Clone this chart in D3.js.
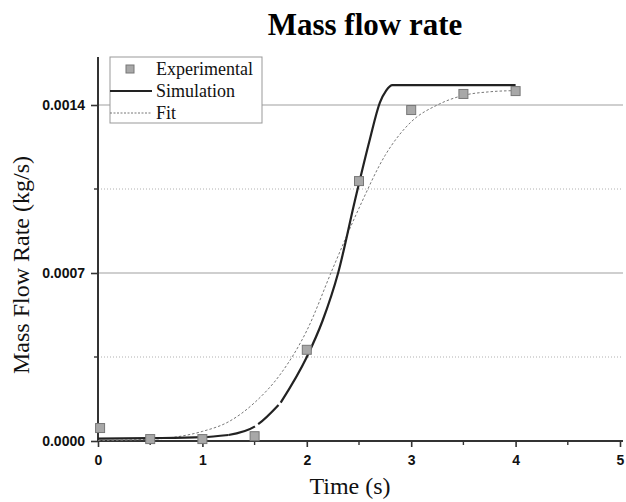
<!DOCTYPE html>
<html>
<head>
	<meta charset="UTF-8">
	<script src="https://d3js.org/d3.v7.min.js"></script>
	<title>Mass flow rate</title>
	<style>
		body { margin: 0; background: #fff; }
	</style>
</head>
<body>
	<svg></svg>
	<script type="text/javascript">
		const width = 626;
		const height = 502;
		const margin = ({top: 57, right: 6, bottom: 61, left: 98});

		// experimental points (time s, kg/s)
		const expTime = [0.02, 0.5, 1.0, 1.5, 2.0, 2.5, 3.0, 3.5, 4.0];
		const expValue = [0.000054, 0.000008, 0.000008, 0.00002, 0.00038, 0.001083, 0.001379, 0.001446, 0.001458];

		// simulation curve
		const simTime = [0, 0.5, 1.0, 1.25, 1.5, 1.75, 2.0, 2.15, 2.3, 2.46, 2.6, 2.7, 2.76, 2.82, 3.5, 4.0];
		const simValue = [0.00001, 0.000012, 0.000016, 0.000025, 0.00006, 0.00016, 0.00035, 0.0005, 0.0007, 0.001, 0.00125, 0.00141, 0.00146, 0.001483, 0.001483, 0.001483];

		// fit curve
		const fitTime = [0, 0.5, 0.75, 1.0, 1.25, 1.5, 1.75, 2.0, 2.25, 2.5, 2.75, 3.0, 3.25, 3.5, 3.75, 4.0];
		const fitValue = [0.000002, 0.000007, 0.000017, 0.00004, 0.00008, 0.00016, 0.00028, 0.00046, 0.00072, 0.00097, 0.00119, 0.00133, 0.0014, 0.00144, 0.001455, 0.00146];

		const xMajor = [0, 1, 2, 3, 4, 5];
		const xMinor = [0.5, 1.5, 2.5, 3.5, 4.5];
		const yMajor = [0, 0.0007, 0.0014];
		const yMinor = [0.00035, 0.00105];
		const legendNames = ["Experimental", "Simulation", "Fit"];

		const expData = expTime.map((t, i) => ({t, v: expValue[i]}));
		const simData = simTime.map((t, i) => ({t, v: simValue[i]}));
		const fitData = fitTime.map((t, i) => ({t, v: fitValue[i]}));

		const x = d3.scaleLinear()
			.domain([0, 5])
			.range([margin.left, 620]);

		const y = d3.scaleLinear()
			.domain([0, 0.0016])
			.range([height - margin.bottom, margin.top]);

		const svg = d3.select("svg")
			.attr("width", width)
			.attr("height", height)
			.attr("viewBox", [0, 0, width, height]);

		const serif = "'Liberation Serif', 'Times New Roman', serif";
		const sans = "'Liberation Sans', Arial, sans-serif";

		// grid
		svg.append("g")
			.selectAll("line")
			.data(yMajor.slice(1))
			.join("line")
				.attr("x1", margin.left)
				.attr("x2", 623)
				.attr("y1", d => y(d))
				.attr("y2", d => y(d))
				.attr("stroke", "#a0a0a0")
				.attr("stroke-width", 1.2);

		svg.append("g")
			.selectAll("line")
			.data(yMinor)
			.join("line")
				.attr("x1", margin.left)
				.attr("x2", 623)
				.attr("y1", d => y(d))
				.attr("y2", d => y(d))
				.attr("stroke", "#b0b0b0")
				.attr("stroke-dasharray", "1,2");

		// axes
		const xAxis = g => g
			.attr("transform", `translate(0,${y(0)})`)
			.call(d3.axisBottom(x).tickValues(xMajor).tickFormat(d3.format("d")).tickSize(6).tickPadding(8))
			.call(g => g.select(".domain").attr("stroke", "#333").attr("stroke-width", 2).attr("d", `M${margin.left},0H623`))
			.call(g => g.selectAll(".tick line").attr("stroke", "#333").attr("stroke-width", 1.6))
			.call(g => g.selectAll(".tick text")
				.attr("font-family", sans)
				.attr("font-weight", "bold")
				.attr("font-size", 14)
				.attr("fill", "#111"));

		const yAxis = g => g
			.attr("transform", `translate(${margin.left},0)`)
			.call(d3.axisLeft(y).tickValues(yMajor).tickFormat(d3.format(".4f")).tickSize(7).tickPadding(6))
			.call(g => g.select(".domain").attr("stroke", "#333").attr("stroke-width", 2).attr("d", `M0,${y(0)}V${margin.top}`))
			.call(g => g.selectAll(".tick line").attr("stroke", "#333").attr("stroke-width", 1.6))
			.call(g => g.selectAll(".tick text")
				.attr("font-family", sans)
				.attr("font-weight", "bold")
				.attr("font-size", 14)
				.attr("fill", "#111"));

		svg.append("g").call(xAxis);
		svg.append("g").call(yAxis);

		// minor ticks
		svg.append("g")
			.selectAll("line")
			.data(xMinor)
			.join("line")
				.attr("x1", d => x(d))
				.attr("x2", d => x(d))
				.attr("y1", y(0))
				.attr("y2", y(0) + 4)
				.attr("stroke", "#333")
				.attr("stroke-width", 1.4);

		svg.append("g")
			.selectAll("line")
			.data(yMinor)
			.join("line")
				.attr("x1", margin.left - 4)
				.attr("x2", margin.left)
				.attr("y1", d => y(d))
				.attr("y2", d => y(d))
				.attr("stroke", "#333")
				.attr("stroke-width", 1.4);

		// curves
		const line = d3.line()
			.x(d => x(d.t))
			.y(d => y(d.v))
			.curve(d3.curveMonotoneX);

		svg.append("path")
			.datum(fitData)
			.attr("fill", "none")
			.attr("stroke", "#777")
			.attr("stroke-width", 1)
			.attr("stroke-dasharray", "2.5,2")
			.attr("d", line);

		// simulation drawn in three pieces: the rendering shows a broken stretch around 1.3-1.8 s
		const simLow = simData.filter(d => d.t <= 1.25);
		const simMid = simData.filter(d => d.t >= 1.25 && d.t <= 1.75);
		const simHigh = simData.filter(d => d.t >= 1.75);

		[simLow, simHigh].forEach(seg => {
			svg.append("path")
				.datum(seg)
				.attr("fill", "none")
				.attr("stroke", "#222")
				.attr("stroke-width", 2.2)
				.attr("d", line);
		});

		svg.append("path")
			.datum(simMid)
			.attr("fill", "none")
			.attr("stroke", "#222")
			.attr("stroke-width", 2.2)
			.attr("stroke-dasharray", "28,4")
			.attr("d", line);

		// experimental squares
		svg.append("g")
			.selectAll("rect")
			.data(expData)
			.join("rect")
				.attr("x", d => x(d.t) - 4.5)
				.attr("y", d => y(d.v) - 4.5)
				.attr("width", 9)
				.attr("height", 9)
				.attr("fill", "#a8a8a8")
				.attr("stroke", "#777")
				.attr("stroke-width", 1);

		// legend
		const legend = svg.append("g").attr("transform", "translate(110,57)");
		legend.append("rect")
			.attr("width", 152)
			.attr("height", 66)
			.attr("fill", "#fff")
			.attr("stroke", "#999")
			.attr("stroke-width", 1);

		const rowY = i => 12 + i * 22;
		legend.append("rect")
			.attr("x", 16)
			.attr("y", rowY(0) - 4)
			.attr("width", 8)
			.attr("height", 8)
			.attr("fill", "#a8a8a8")
			.attr("stroke", "#777");
		legend.append("line")
			.attr("x1", 0).attr("x2", 42)
			.attr("y1", rowY(1)).attr("y2", rowY(1))
			.attr("stroke", "#222")
			.attr("stroke-width", 2);
		legend.append("line")
			.attr("x1", 0).attr("x2", 42)
			.attr("y1", rowY(2)).attr("y2", rowY(2))
			.attr("stroke", "#777")
			.attr("stroke-dasharray", "2,1.5");

		legend.selectAll("text")
			.data(legendNames)
			.join("text")
				.attr("x", 46)
				.attr("y", (d, i) => rowY(i))
				.attr("dy", "0.35em")
				.attr("font-family", serif)
				.attr("font-size", 18)
				.attr("fill", "#111")
				.text(d => d);

		// titles
		svg.append("text")
			.attr("x", 365)
			.attr("y", 35)
			.attr("text-anchor", "middle")
			.attr("font-family", serif)
			.attr("font-weight", "bold")
			.attr("font-size", 31)
			.attr("fill", "#000")
			.text("Mass flow rate");

		svg.append("text")
			.attr("x", 350)
			.attr("y", 494)
			.attr("text-anchor", "middle")
			.attr("font-family", serif)
			.attr("font-size", 24)
			.attr("fill", "#111")
			.text("Time (s)");

		svg.append("text")
			.attr("transform", "translate(29,265) rotate(-90)")
			.attr("text-anchor", "middle")
			.attr("font-family", serif)
			.attr("font-size", 24)
			.attr("fill", "#111")
			.text("Mass Flow Rate (kg/s)");
	</script>
</body>
</html>
